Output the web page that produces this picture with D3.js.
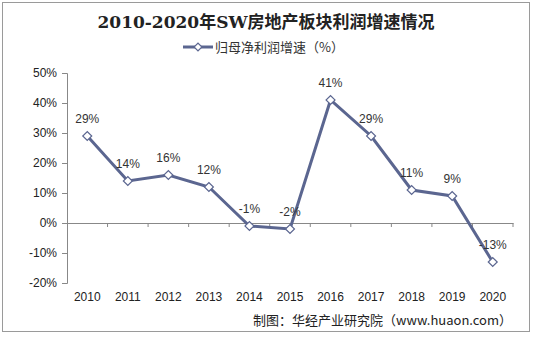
<!DOCTYPE html>
<html><head><meta charset="utf-8">
<script src="https://cdn.jsdelivr.net/npm/d3@7"></script>
<style>body{margin:0;background:#fff}svg{display:block}</style>
</head><body>
<svg id="c" width="534" height="337"></svg>
<script>
const years = ["2010","2011","2012","2013","2014","2015","2016","2017","2018","2019","2020"];
const growth = [29,14,16,12,-1,-2,41,29,11,9,-13];
const yTicks = [-20,-10,0,10,20,30,40,50];
const title = "2010-2020年SW房地产板块利润增速情况";
const seriesName = "归母净利润增速（%）";
const source = "制图：华经产业研究院（www.huaon.com）";

const svg = d3.select("#c");
const col = "#5b6690";
svg.append("rect").attr("x",2.5).attr("y",2.5).attr("width",527).attr("height",329)
  .attr("fill","#fff").attr("stroke","#9a9a9a").attr("stroke-width",1);

const x = d3.scaleBand().domain(years).range([67,513]);
const y = d3.scaleLinear().domain([-20,50]).range([283,73]);
const diamond = d3.symbol(d3.symbolSquare,40)();

svg.append("text").attr("x",266).attr("y",28).attr("text-anchor","middle")
  .attr("font-family","'DejaVu Serif','Noto Sans CJK SC',serif").attr("font-weight","bold")
  .attr("font-size",17).attr("fill","#222").text(title);

// legend
const lg = svg.append("g");
lg.append("line").attr("x1",183).attr("x2",213).attr("y1",47).attr("y2",47).attr("stroke",col).attr("stroke-width",3);
lg.append("path").attr("d",d3.symbol(d3.symbolSquare,30)()).attr("transform","translate(198,47) rotate(45)")
  .attr("fill","#fff").attr("stroke",col).attr("stroke-width",1.2);
lg.append("text").attr("x",215).attr("y",52).attr("font-family","'Noto Sans CJK SC',sans-serif")
  .attr("font-size",13).attr("fill","#333").text(seriesName);

// y axis
const ya = svg.append("g").attr("transform","translate(67,0)")
  .call(d3.axisLeft(y).tickValues(yTicks).tickSize(5).tickFormat(d=>d+"%"));
ya.select(".domain").attr("stroke","#888");
ya.selectAll(".tick line").attr("stroke","#888");
ya.selectAll("text").attr("font-family","'Liberation Sans',Arial,sans-serif").attr("font-size",12).attr("fill","#222").attr("x",-10);

// x axis at 0
const xa = svg.append("g").attr("transform",`translate(0,${y(0)})`)
  .call(d3.axisBottom(x).tickSize(0).tickFormat(""));
xa.select(".domain").attr("stroke","#888");
xa.selectAll(".tick").remove();
const bounds = years.slice(1).map(d=>x(d));
bounds.push(513);
svg.selectAll(".xt").data(bounds).enter().append("line")
  .attr("x1",d=>d).attr("x2",d=>d).attr("y1",y(0)).attr("y2",y(0)+4).attr("stroke","#888");

svg.selectAll(".xl").data(years).enter().append("text")
  .attr("x",d=>x(d)+x.bandwidth()/2).attr("y",301).attr("text-anchor","middle")
  .attr("font-family","'Liberation Sans',Arial,sans-serif").attr("font-size",12).attr("fill","#222").text(d=>d);

const line = d3.line().x((d,i)=>x(years[i])+x.bandwidth()/2).y(d=>y(d));
svg.append("path").datum(growth).attr("d",line).attr("fill","none").attr("stroke",col).attr("stroke-width",3);
svg.selectAll(".pt").data(growth).enter().append("path")
  .attr("d",diamond)
  .attr("transform",(d,i)=>`translate(${x(years[i])+x.bandwidth()/2},${y(d)}) rotate(45)`)
  .attr("fill","#fff").attr("stroke",col).attr("stroke-width",1.2);
svg.selectAll(".lb").data(growth).enter().append("text")
  .attr("x",(d,i)=>x(years[i])+x.bandwidth()/2).attr("y",d=>y(d)-13).attr("text-anchor","middle")
  .attr("font-family","'Liberation Sans',Arial,sans-serif").attr("font-size",12).attr("fill","#333").text(d=>d+"%");

svg.append("text").attr("x",512).attr("y",325).attr("text-anchor","end")
  .attr("font-family","'Noto Sans CJK SC',sans-serif").attr("font-size",13).attr("fill","#222").text(source);
</script>
</body></html>
